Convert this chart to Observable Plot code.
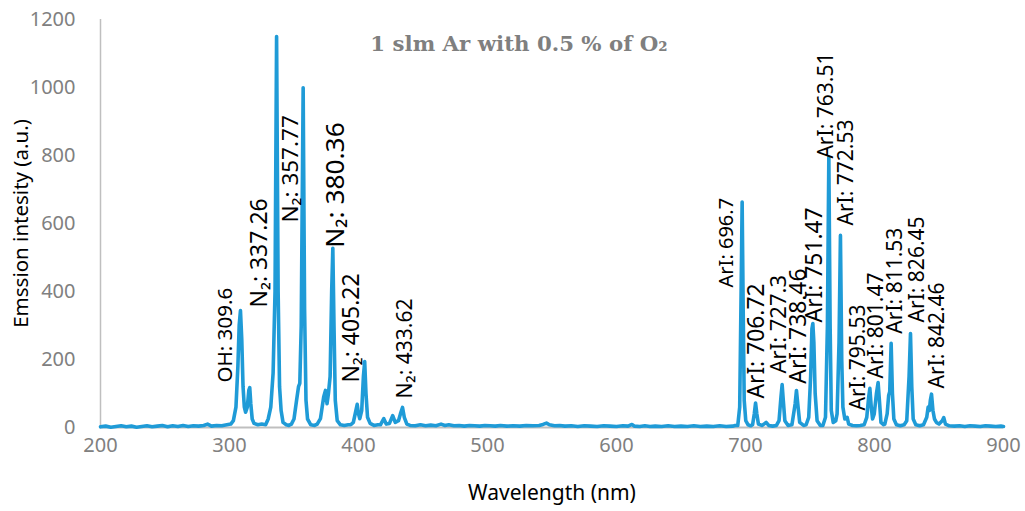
<!DOCTYPE html>
<html>
<head>
<meta charset="utf-8">
<script src="https://cdn.jsdelivr.net/npm/d3@7"></script>
<script src="https://cdn.jsdelivr.net/npm/@observablehq/plot@0.6"></script>
<style>
  html, body { margin: 0; padding: 0; background: #ffffff; }
</style>
</head>
<body>
<div id="chart"></div>
<script>
// Emission spectrum: [wavelength (nm), intensity (a.u.)]
const uvBand = [
  [200,2],[204,4],[208,1],[212,3],[216,5],[220,2],[224,4],[228,1],[232,3],[236,5],
  [240,2],[244,4],[248,6],[252,2],[256,5],[260,3],[264,6],[268,3],[272,5],[276,4],
  [280,6],[283,10],[286,4],[290,6],[294,5],[298,8],[301,10],[303,20],[305,60],[306.5,180],
  [307.5,300],[308.5,344],[309.5,260],[310.5,120],[311.5,60],[312.5,45],[313.8,60],[315,110],[315.7,117],[316.5,70],
  [317.6,25],[319,12],[322,8],[325,10],[328,8],[330,25],[332,60],[333.8,160],[335.3,400],[336.5,1150],
  [337.7,400],[338.8,120],[340,50],[341.5,15],[344,8],[346,6],[348,10],[350,25],[352,80],[353.5,120],
  [354.5,130],[355.6,300],[357.1,999],[358.2,350],[359.3,80],[360.5,25],[363,8],[366,6],[368,10],[370.5,26],
  [373,90],[374.4,109],[375.6,70],[376.7,100],[378,150],[379.2,400],[380.1,527],[381,300],[382,80],[383.5,20],
  [386,8],[389,6],[392,8],[394,8],[396,15],[398,50],[399,68],[400,40],[401,26],[402.5,50],
  [403.8,150],[404.8,194],[405.8,100],[407,30],[409,12],[412,6],[415,8],[417,8],[419.6,26],[421.5,10],
  [424,12],[426.5,35],[428.5,15],[431,20],[432.5,40],[434.1,59],[435.5,30],[437.5,10],[440,6],[444,5]
];
const visBand = [
  [448,8],[452,5],[456,7],[460,5],[464,10],[467,6],[470,8],[474,5],[478,6],[482,4],
  [486,6],[490,5],[494,4],[498,6],[502,5],[506,4],[510,6],[515,4],[520,5],[525,4],
  [530,6],[535,5],[540,6],[543,9],[545.7,13],[548,8],[552,5],[556,6],[560,4],[565,5],
  [570,3],[575,5],[580,4],[585,3],[590,5],[595,4],[600,3],[605,5],[609,4],[612,9],
  [614,4],[618,3],[622,5],[626,3],[630,4],[635,3],[640,5],[645,3],[650,4],[655,3],
  [660,5],[665,3],[670,4],[675,3],[680,5],[685,3],[690,4],[692,6]
];
const nirBand = [
  [694,6],[695.5,60],[696.6,400],[697.4,663],[698.2,350],[699,80],[700.2,20],[702,8],[704,5],[705.5,8],
  [706.8,40],[707.8,72],[708.8,40],[710,10],[713,6],[716,15],[718,6],[721,4],[724,6],[726,20],
  [727.5,90],[728.4,126],[729.3,80],[730.5,20],[733,6],[736,8],[738.5,70],[739.5,109],[740.5,70],[742,15],
  [745,6],[747,8],[749,30],[750.5,150],[751.5,290],[752.2,306],[753,250],[754,100],[755.5,20],[758,6],
  [760,6],[762,30],[763.5,300],[764.6,795],[765.6,300],[766.5,50],[768,15],[770,20],[771,40],[772.5,250],
  [773.6,565],[774.6,200],[775.5,60],[777,25],[778.8,30],[780,10],[783,6],[786,5],[789,6],[792,8],
  [794,30],[795.5,90],[796.4,115],[797.5,60],[798.5,25],[799.8,40],[801.5,100],[802.8,132],[803.8,80],[805,15],
  [807,8],[808,10],[809.8,40],[811,95],[811.8,105],[812.9,248],[813.9,100],[815,25],[817,8],[820,5],
  [823,8],[825,20],[826.8,150],[827.9,276],[828.9,120],[830,25],[832,8],[835,5],[838,8],[840.5,30],
  [841.6,60],[842.5,50],[843.3,80],[844.2,98],[845.3,50],[846.5,25],[848,15],[850,10],[852.5,20],[853.7,29],
  [855,10],[858,5],[862,4],[866,5],[870,3],[874,5],[878,4],[882,3],[886,5],[890,4],
  [894,3],[898,4],[900,3]
];

// Peak annotations: text and anchor (wavelength nm, intensity a.u.) of the label's start
const labelText = [
  "OH: 309.6", "N₂: 337.26", "N₂: 357.77", "N₂: 380.36", "N₂: 405.22", "N₂: 433.62",
  "ArI: 696.7", "ArI: 706.72", "ArI: 727.3", "ArI: 738.46", "ArI: 751.47", "ArI: 763.51",
  "ArI: 772.53", "ArI: 795.53", "ArI: 801.47", "ArI: 811.53", "ArI: 826.45", "ArI: 842.46"
];
const labelNm = [296.9, 323.3, 347.3, 382.2, 394.6, 436.4, 685.3, 708.9, 725.6, 741.1, 753.5, 762.8, 778.3, 787.6, 801.6, 816.3, 833.3, 848.8];
const labelAU = [132, 353, 603, 529, 132, 85, 412, 85, 159, 129, 309, 791, 594, 50, 144, 276, 309, 115];

const xTicks = [200, 300, 400, 500, 600, 700, 800, 900];
const yTicks = [0, 200, 400, 600, 800, 1000, 1200];
const titleText = "1 slm Ar with 0.5 % of O₂";
const xTitle = "Wavelength (nm)";
const yTitle = "Emssion intesity (a.u.)";

// styles
const labelFontSize = [20.6, 22.9, 22.5, 26.3, 22.9, 21, 20, 22.8, 22, 22.8, 22.8, 21, 21, 21, 21, 21, 21, 21];

const spectrum = [...uvBand, ...visBand, ...nirBand].map(([nm, v]) => ({nm, v}));
const labels = labelText.map((t, i) => ({t, nm: labelNm[i], v: labelAU[i], s: labelFontSize[i]}));

const chart = Plot.plot({
  width: 1025,
  height: 511,
  marginLeft: 100,
  marginRight: 22,
  marginTop: 19,
  marginBottom: 84,
  style: {fontFamily: "'Noto Sans', sans-serif", background: "#ffffff", overflow: "visible"},
  x: {domain: [200, 900]},
  y: {domain: [0, 1200]},
  marks: [
    Plot.axisY({ticks: yTicks, tickFormat: d3.format("d"), tickSize: 0, tickPadding: 25, fontSize: 20, fill: "#808080", label: null}),
    Plot.axisX({ticks: xTicks, tickFormat: d3.format("d"), tickSize: 0, tickPadding: 10, fontSize: 20, fill: "#808080", label: null}),
    Plot.ruleX([200], {stroke: "#bfbfbf", strokeWidth: 1.5}),
    Plot.ruleY([0], {stroke: "#bfbfbf", strokeWidth: 2}),
    Plot.line(spectrum, {x: "nm", y: "v", stroke: "#1f9bd7", strokeWidth: 3.6, strokeLinejoin: "round", strokeLinecap: "round"}),
    ...labels.map(d => Plot.text([d], {
      x: "nm", y: "v", text: "t", rotate: -90, textAnchor: "start",
      fontSize: d.s, fill: "#000000"
    })),
    Plot.text([titleText], {
      frameAnchor: "top", text: d => d, dx: -33, dy: 16.5,
      fontFamily: "'DejaVu Serif', serif", fontWeight: "bold", fontSize: 21.3, fill: "#7f7f7f"
    }),
    Plot.text([xTitle], {
      frameAnchor: "bottom", text: d => d, dy: 72, fontSize: 21, fill: "#000000"
    }),
    Plot.text([yTitle], {
      frameAnchor: "left", textAnchor: "middle", text: d => d, dx: -79, rotate: -90, fontSize: 20.5, fill: "#000000"
    })
  ]
});
document.getElementById("chart").appendChild(chart);
</script>
</body>
</html>
